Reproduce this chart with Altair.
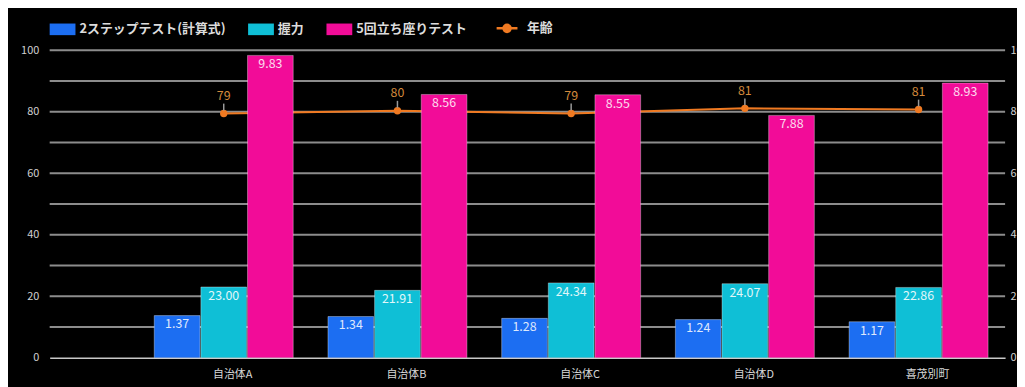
import altair as alt
import pandas as pd

categories = ["自治体A", "自治体B", "自治体C", "自治体D", "喜茂別町"]
series_names = ["2ステップテスト(計算式)", "握力", "5回立ち座りテスト"]
two_step = [1.37, 1.34, 1.28, 1.24, 1.17]
grip = [23.00, 21.91, 24.34, 24.07, 22.86]
sit_stand = [9.83, 8.56, 8.55, 7.88, 8.93]
age = [79.4, 80.3, 79.4, 81.1, 80.7]
age_name = "年齢"
grid_values = list(range(10, 101, 10))
left_ticks = list(range(0, 101, 20))
right_ticks = [0, 2, 4, 6, 8, 10]

colors = ["#1c6ef2", "#0fbfd6", "#f20c98"]
orange = "#f07a22"
FONT = "Noto Sans CJK JP"

left_df = pd.DataFrame({"cat": categories, "series": series_names[1], "value": grip})
right_df = pd.concat([
    pd.DataFrame({"cat": categories, "series": series_names[0], "value": two_step}),
    pd.DataFrame({"cat": categories, "series": series_names[2], "value": sit_stand}),
])
age_df = pd.DataFrame({"cat": categories, "age": age, "name": age_name})
grid_df = pd.DataFrame({"g": grid_values})

x_enc = alt.X(
    "cat:N", sort=categories, title=None,
    scale=alt.Scale(paddingInner=0.2, paddingOuter=0.35, align=0.86),
    axis=alt.Axis(labelAngle=0, labelColor="#d8d8d8", labelFontSize=11, labelPadding=11,
                  ticks=False, domain=True, domainColor="#c8c8c8", domainWidth=1.5,
                  grid=False, labelOffset=9),
)
xoff = alt.XOffset("series:N", sort=series_names,
                   scale=alt.Scale(domain=series_names, paddingInner=0.02, paddingOuter=0))

fill_legend = alt.Legend(
    orient="none", legendX=0, legendY=-34, direction="horizontal", title=None,
    symbolType="M-1,-0.45H1V0.45H-1Z", symbolSize=676, symbolStrokeWidth=0,
    labelColor="#dcdcdc", labelFontSize=13, labelFont=FONT, labelFontWeight="bold",
    columnPadding=22, labelOffset=4, symbolOpacity=1,
)
fill_enc = alt.Fill("series:N", scale=alt.Scale(domain=series_names, range=colors), legend=fill_legend)

yl = alt.Scale(domain=[0, 100], nice=False)
yr = alt.Scale(domain=[0, 10], nice=False)

left_axis = alt.Axis(orient="left", values=left_ticks, grid=False, ticks=False, domain=False,
                     labelColor="#d0d0d0", labelFontSize=11, labelPadding=11)
right_axis = alt.Axis(orient="right", values=right_ticks, grid=False, ticks=False, domain=False,
                      labelColor="#d0d0d0", labelFontSize=11, labelPadding=5)

bar_style = dict(stroke="white", strokeOpacity=0.35, strokeWidth=1)

grid = alt.Chart(grid_df).mark_rule(color="#8c8c8c", strokeWidth=2).encode(
    y=alt.Y("g:Q", scale=yl, title=None, axis=left_axis))

cyan_bars = alt.Chart(left_df).mark_bar(**bar_style).encode(
    x=x_enc, xOffset=xoff, y=alt.Y("value:Q", scale=yl, title=None, axis=left_axis), fill=fill_enc)
cyan_text = alt.Chart(left_df).mark_text(baseline="middle", dy=9, fontSize=12.5, color="white", opacity=0.88).encode(
    x=x_enc, xOffset=xoff, y=alt.Y("value:Q", scale=yl), text=alt.Text("value:Q", format=".2f"))

line = alt.Chart(age_df).mark_line(strokeWidth=2).encode(
    x=x_enc, y=alt.Y("age:Q", scale=yl),
    stroke=alt.Stroke("name:N", scale=alt.Scale(domain=[age_name], range=[orange]),
                      legend=alt.Legend(orient="none", legendX=449, legendY=-34, title=None,
                                        symbolType="M-1,0H1M0.34,0A0.34,0.34,0,1,1,-0.34,0A0.34,0.34,0,1,1,0.34,0",
                                        symbolSize=441, symbolStrokeWidth=2.5, symbolFillColor=orange,
                                        labelColor="#dcdcdc", labelFontSize=13, labelFont=FONT,
                                        labelFontWeight="bold", labelOffset=8)))
points = alt.Chart(age_df).mark_circle(size=55, color=orange, opacity=1).encode(
    x=x_enc, y=alt.Y("age:Q", scale=yl))
leaders = alt.Chart(age_df).mark_rule(color="#9a9a9a", strokeWidth=1.5, yOffset=-3, y2Offset=-10).encode(
    x=x_enc, y=alt.Y("age:Q", scale=yl), y2=alt.Y2("age:Q"))
age_text = alt.Chart(age_df).mark_text(baseline="middle", dy=-17.5, fontSize=12.5, color="#d48a3c").encode(
    x=x_enc, y=alt.Y("age:Q", scale=yl), text=alt.Text("age:Q", format=".0f"))

left_group = alt.layer(grid, cyan_bars, cyan_text, line, points, leaders, age_text)

right_bars = alt.Chart(right_df).mark_bar(**bar_style).encode(
    x=x_enc, xOffset=xoff, y=alt.Y("value:Q", scale=yr, title=None, axis=right_axis), fill=fill_enc)
right_text = alt.Chart(right_df).mark_text(baseline="middle", dy=9, fontSize=12.5, color="white", opacity=0.85).encode(
    x=x_enc, xOffset=xoff, y=alt.Y("value:Q", scale=yr), text=alt.Text("value:Q", format=".2f"))

right_group = alt.layer(right_bars, right_text)

chart = alt.layer(left_group, right_group).resolve_scale(y="independent").properties(
    width=963, height=310,
    autosize=alt.AutoSizeParams(type="none"),
    padding={"left": 42, "top": 41, "right": 12, "bottom": 30},
    background="black",
).configure(font=FONT).configure_view(strokeWidth=0)

chart.save("out.html", embed_options={"renderer": "svg", "actions": False})
